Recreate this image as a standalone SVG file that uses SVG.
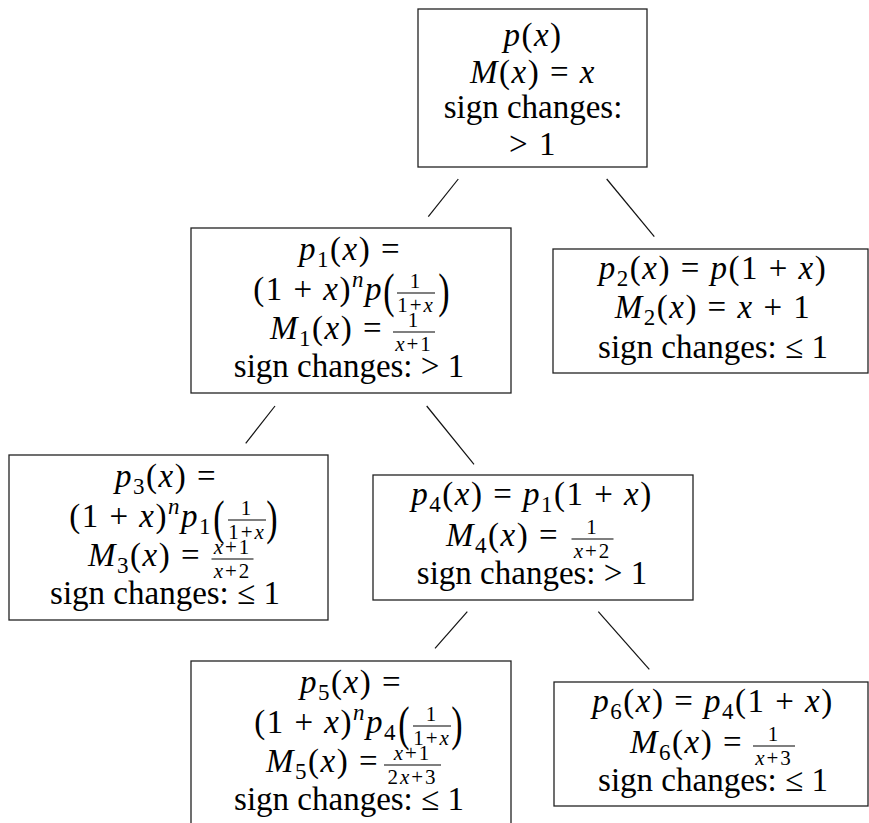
<svg xmlns="http://www.w3.org/2000/svg" width="869" height="823" viewBox="0 0 869 823">
<style>
text { font-family: "Liberation Serif", "Times New Roman", serif; font-size: 33px; fill: #000; }
.m { letter-spacing: 1.5px; }
.i { font-style: italic; }
.s { font-size: 23px; }
.f { font-size: 21px; letter-spacing: 2px; text-anchor: middle; }
.bp { font-size: 34px; text-anchor: middle; }
.c { text-anchor: middle; }
.e { text-anchor: end; }
rect { fill: #fff; stroke: #222; stroke-width: 1.3; }
.bar { stroke: #000; stroke-width: 1.2; }
#connectors line { stroke: #111; stroke-width: 1.2; }
</style>
<rect x="0" y="0" width="869" height="823" style="fill:#fff;stroke:none"/>
<g id="connectors">
<line x1="458.3" y1="179" x2="428.3" y2="216.7"/>
<line x1="606.7" y1="179" x2="654.3" y2="236.7"/>
<line x1="275" y1="406" x2="245.7" y2="443.3"/>
<line x1="426.7" y1="406" x2="474" y2="464.3"/>
<line x1="467.3" y1="611.7" x2="435" y2="648.3"/>
<line x1="598.3" y1="611.7" x2="649.3" y2="669.3"/>
</g>
<g id="root">
<rect x="418" y="9" width="229" height="158"/>
<text class="m c" x="533" y="46"><tspan class="i">p</tspan>(<tspan class="i">x</tspan>)</text>
<text class="m c" x="533" y="83"><tspan class="i">M</tspan>(<tspan class="i">x</tspan>) = <tspan class="i">x</tspan></text>
<text class="c" x="533" y="118">sign changes:</text>
<text class="m c" x="533" y="155">&gt; 1</text>
</g>
<g id="p1">
<rect x="191" y="228" width="320" height="165"/>
<text class="m c" x="350" y="260"><tspan class="i">p</tspan><tspan class="s" dy="7">1</tspan><tspan dy="-7">(</tspan><tspan class="i">x</tspan>) =</text>
<text class="m e" x="383" y="300">(1 + <tspan class="i">x</tspan>)<tspan class="i s" dy="-13">n</tspan><tspan class="i" dy="13">p</tspan></text>
<text class="bp" transform="translate(389,307) scale(1,1.45)">(</text>
<text class="f" x="416" y="288">1</text>
<line class="bar" x1="397" y1="293" x2="435" y2="293"/>
<text class="f" x="416" y="312">1+<tspan class="i">x</tspan></text>
<text class="bp" transform="translate(444,307) scale(1,1.45)">)</text>
<text class="m e" x="383" y="339"><tspan class="i">M</tspan><tspan class="s" dy="7">1</tspan><tspan dy="-7">(</tspan><tspan class="i">x</tspan>) =</text>
<text class="f" x="414" y="327">1</text>
<line class="bar" x1="393" y1="332" x2="435" y2="332"/>
<text class="f" x="414" y="351"><tspan class="i">x</tspan>+1</text>
<text class="c" x="349" y="377">sign changes: &gt; 1</text>
</g>
<g id="p2">
<rect x="553" y="249" width="315" height="124"/>
<text class="m c" x="713" y="279"><tspan class="i">p</tspan><tspan class="s" dy="7">2</tspan><tspan dy="-7">(</tspan><tspan class="i">x</tspan>) = <tspan class="i">p</tspan>(1 + <tspan class="i">x</tspan>)</text>
<text class="m c" x="713" y="318"><tspan class="i">M</tspan><tspan class="s" dy="7">2</tspan><tspan dy="-7">(</tspan><tspan class="i">x</tspan>) = <tspan class="i">x</tspan> + 1</text>
<text class="c" x="713" y="358">sign changes: ≤ 1</text>
</g>
<g id="p3">
<rect x="9" y="455" width="319" height="165"/>
<text class="m c" x="166" y="487"><tspan class="i">p</tspan><tspan class="s" dy="7">3</tspan><tspan dy="-7">(</tspan><tspan class="i">x</tspan>) =</text>
<text class="m e" x="212" y="527">(1 + <tspan class="i">x</tspan>)<tspan class="i s" dy="-13">n</tspan><tspan class="i" dy="13">p</tspan><tspan class="s" dy="7">1</tspan></text>
<text class="bp" transform="translate(219,534) scale(1,1.45)">(</text>
<text class="f" x="247" y="515">1</text>
<line class="bar" x1="228" y1="520" x2="266" y2="520"/>
<text class="f" x="247" y="539">1+<tspan class="i">x</tspan></text>
<text class="bp" transform="translate(272,534) scale(1,1.45)">)</text>
<text class="m e" x="201" y="566"><tspan class="i">M</tspan><tspan class="s" dy="7">3</tspan><tspan dy="-7">(</tspan><tspan class="i">x</tspan>) =</text>
<text class="f" x="232.5" y="554"><tspan class="i">x</tspan>+1</text>
<line class="bar" x1="211.5" y1="559" x2="253.5" y2="559"/>
<text class="f" x="232.5" y="578"><tspan class="i">x</tspan>+2</text>
<text class="c" x="165" y="604">sign changes: ≤ 1</text>
</g>
<g id="p4">
<rect x="373" y="475" width="320" height="125"/>
<text class="m c" x="532" y="505"><tspan class="i">p</tspan><tspan class="s" dy="7">4</tspan><tspan dy="-7">(</tspan><tspan class="i">x</tspan>) = <tspan class="i">p</tspan><tspan class="s" dy="7">1</tspan><tspan dy="-7">(1 + </tspan><tspan class="i">x</tspan>)</text>
<text class="m e" x="559" y="546"><tspan class="i">M</tspan><tspan class="s" dy="7">4</tspan><tspan dy="-7">(</tspan><tspan class="i">x</tspan>) =</text>
<text class="f" x="592.5" y="534">1</text>
<line class="bar" x1="571.5" y1="539" x2="613.5" y2="539"/>
<text class="f" x="592.5" y="558"><tspan class="i">x</tspan>+2</text>
<text class="c" x="532" y="584">sign changes: &gt; 1</text>
</g>
<g id="p5">
<rect x="191" y="661" width="320" height="175"/>
<text class="m c" x="351" y="693"><tspan class="i">p</tspan><tspan class="s" dy="7">5</tspan><tspan dy="-7">(</tspan><tspan class="i">x</tspan>) =</text>
<text class="m e" x="397" y="733">(1 + <tspan class="i">x</tspan>)<tspan class="i s" dy="-13">n</tspan><tspan class="i" dy="13">p</tspan><tspan class="s" dy="7">4</tspan></text>
<text class="bp" transform="translate(404,740) scale(1,1.45)">(</text>
<text class="f" x="432" y="721">1</text>
<line class="bar" x1="413" y1="726" x2="451" y2="726"/>
<text class="f" x="432" y="745">1+<tspan class="i">x</tspan></text>
<text class="bp" transform="translate(457,740) scale(1,1.45)">)</text>
<text class="m e" x="379" y="772"><tspan class="i">M</tspan><tspan class="s" dy="7">5</tspan><tspan dy="-7">(</tspan><tspan class="i">x</tspan>) =</text>
<text class="f" x="412.5" y="760"><tspan class="i">x</tspan>+1</text>
<line class="bar" x1="384" y1="765" x2="441" y2="765"/>
<text class="f" x="412.5" y="784">2<tspan class="i">x</tspan>+3</text>
<text class="c" x="349" y="810">sign changes: ≤ 1</text>
</g>
<g id="p6">
<rect x="554" y="682" width="314" height="124"/>
<text class="m c" x="713" y="712"><tspan class="i">p</tspan><tspan class="s" dy="7">6</tspan><tspan dy="-7">(</tspan><tspan class="i">x</tspan>) = <tspan class="i">p</tspan><tspan class="s" dy="7">4</tspan><tspan dy="-7">(1 + </tspan><tspan class="i">x</tspan>)</text>
<text class="m e" x="743" y="753"><tspan class="i">M</tspan><tspan class="s" dy="7">6</tspan><tspan dy="-7">(</tspan><tspan class="i">x</tspan>) =</text>
<text class="f" x="774" y="741">1</text>
<line class="bar" x1="753" y1="746" x2="795" y2="746"/>
<text class="f" x="774" y="765"><tspan class="i">x</tspan>+3</text>
<text class="c" x="713" y="791">sign changes: ≤ 1</text>
</g>
</svg>
